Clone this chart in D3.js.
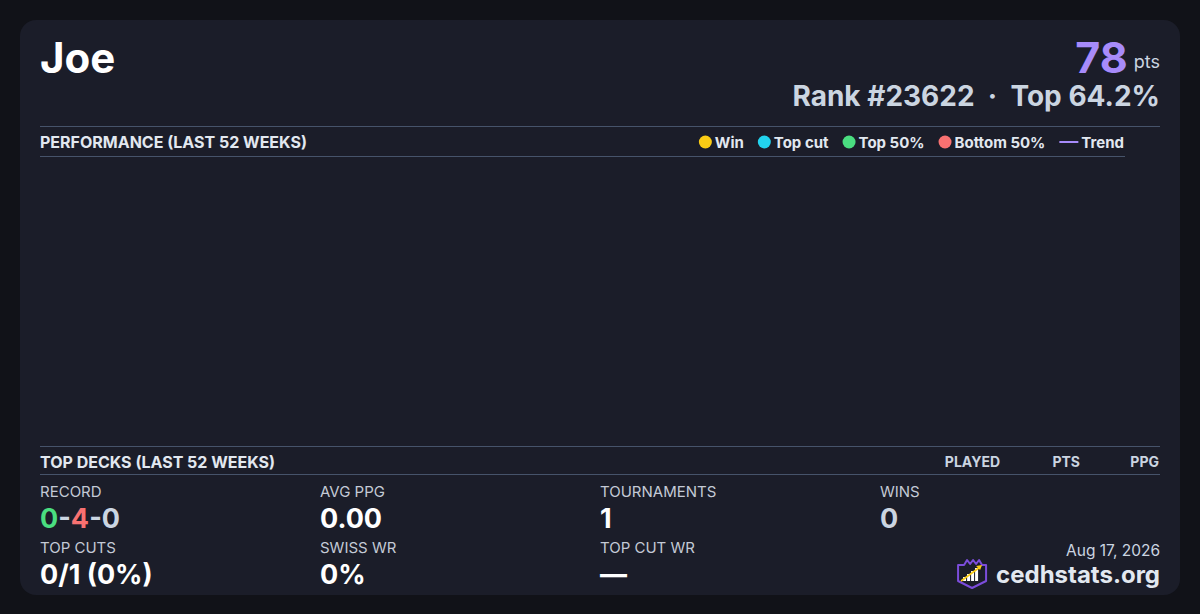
<!DOCTYPE html>
<html><head><meta charset="utf-8">
<script src="https://cdn.jsdelivr.net/npm/d3@7"></script>
<style>
html,body{margin:0;padding:0;background:#111218;}
svg{display:block;font-family:Inter,"Noto Sans",sans-serif;}
</style></head><body>
<svg id="c" width="1200" height="614"></svg>
<script>
// ---- data ----
const playerName = "Joe";
const points = 78;
const rank = 23622;
const topPct = 64.2;
const legendLabels = ["Win", "Top cut", "Top 50%", "Bottom 50%", "Trend"];
const legendColors = ["#facc15", "#22d3ee", "#4ade80", "#f87171", "#a78bfa"];
const weeklyResults = []; // no results in last 52 weeks
const deckHeaders = ["PLAYED", "PTS", "PPG"];
const topDecks = [];
const statLabels = ["RECORD", "AVG PPG", "TOURNAMENTS", "WINS", "TOP CUTS", "SWISS WR", "TOP CUT WR"];
const statValues = [null, "0.00", "1", "0", "0/1 (0%)", "0%", "—"];
const recordParts = [0, 4, 0];
const dateLabel = "Aug 17, 2026";
const siteName = "cedhstats.org";

// ---- draw ----
const svg = d3.select("#c");
svg.append("rect").attr("width",1200).attr("height",614).attr("fill","#111218");
svg.append("rect").attr("x",20).attr("y",20).attr("width",1160).attr("height",575).attr("rx",16).attr("fill","#1b1d29");

const L = 40, R = 1160;
const lineCol = "#46536a";

svg.append("text").attr("x",L).attr("y",73).attr("fill","#ffffff").attr("font-size",42).attr("font-weight",700).text(playerName);

const pts = svg.append("text").attr("x",R).attr("y",73).attr("text-anchor","end");
pts.append("tspan").attr("fill","#a78bfa").attr("font-size",43).attr("font-weight",700).text(points);
pts.append("tspan").attr("fill","#cbd5e1").attr("font-size",18).attr("font-weight",400).attr("dx",6).attr("dy",-5).text("pts");

const rk = svg.append("text").attr("x",R).attr("y",106).attr("text-anchor","end").attr("fill","#cbd5e1").attr("font-size",28).attr("font-weight",700);
rk.text(`Rank #${rank}  ·  Top ${topPct.toFixed(1)}%`).attr("xml:space","preserve");

// section lines
const hline = (y,x2)=>svg.append("line").attr("x1",L).attr("x2",x2).attr("y1",y).attr("y2",y).attr("stroke",lineCol).attr("stroke-width",1);
hline(126.5,R);
hline(156.5,1125);
hline(446.5,R);
hline(474.5,R);

svg.append("text").attr("x",L).attr("y",148).attr("fill","#e2e8f0").attr("font-size",16).attr("font-weight",700).text("PERFORMANCE (LAST 52 WEEKS)");

// legend laid out right to left
const lg = svg.append("g");
let xr = 1124;
const items = legendLabels.map((d,i)=>({label:d,color:legendColors[i],line:i===legendLabels.length-1}));
for (let i = items.length-1; i>=0; i--) {
  const it = items[i];
  const t = lg.append("text").attr("y",147.5).attr("fill","#e2e8f0").attr("font-size",15).attr("font-weight",700).attr("text-anchor","end").attr("x",xr).text(it.label);
  const w = t.node().getComputedTextLength();
  const tx = xr - w;
  if (it.line) {
    lg.append("line").attr("x1",tx-22).attr("x2",tx-3).attr("y1",142).attr("y2",142).attr("stroke",it.color).attr("stroke-width",2);
    xr = tx - 22 - 14;
  } else {
    lg.append("circle").attr("cx",tx-9.5).attr("cy",142).attr("r",6.5).attr("fill",it.color);
    xr = tx - 16 - 14;
  }
}

// chart area (empty, no weekly results)
const x = d3.scaleLinear().domain([0,52]).range([L,1125]);
const y = d3.scaleLinear().domain([0,1]).range([440,165]);
svg.append("g").selectAll("circle").data(weeklyResults).join("circle")
  .attr("cx",d=>x(d.week)).attr("cy",d=>y(d.value)).attr("r",5);

// top decks
svg.append("text").attr("x",L).attr("y",468).attr("fill","#e2e8f0").attr("font-size",16).attr("font-weight",700).text("TOP DECKS (LAST 52 WEEKS)");
const hdrX = [1000, 1080, 1159];
deckHeaders.forEach((h,i)=>svg.append("text").attr("x",hdrX[i]).attr("y",467).attr("text-anchor","end").attr("fill","#cbd5e1").attr("font-size",14).attr("font-weight",700).text(h));

// stats grid
const colX = [40, 320, 600, 880];
const rowLabelY = [497, 553], rowValY = [528, 584];
statLabels.forEach((lab,i)=>{
  const c = i%4, r = Math.floor(i/4);
  svg.append("text").attr("x",colX[c]).attr("y",rowLabelY[r]).attr("fill","#c4cad6").attr("font-size",15).attr("font-weight",400).text(lab);
  const v = svg.append("text").attr("x",colX[c]).attr("y",rowValY[r]).attr("font-size",27).attr("font-weight",700);
  if (lab === "RECORD") {
    v.append("tspan").attr("fill","#4ade80").text(recordParts[0]);
    v.append("tspan").attr("fill","#cbd5e1").text("-");
    v.append("tspan").attr("fill","#f87171").text(recordParts[1]);
    v.append("tspan").attr("fill","#cbd5e1").text("-"+recordParts[2]);
  } else {
    v.attr("fill", lab==="WINS" ? "#cbd5e1" : "#ffffff").text(statValues[i]);
  }
});

// footer
svg.append("text").attr("x",R).attr("y",556).attr("text-anchor","end").attr("fill","#cbd5e1").attr("font-size",15.5).text(dateLabel);
const site = svg.append("text").attr("x",R).attr("y",583).attr("text-anchor","end").attr("fill","#e2e8f0").attr("font-size",24).attr("font-weight",700).text(siteName);
const sw = site.node().getComputedTextLength();
const lx = R - sw - 40;
const logo = svg.append("g").attr("transform",`translate(${lx},559)`);
logo.append("path").attr("d","M2,6 L8,6 L11,1 L14,5 L17,1 L20,5 L23,1 L26,6 L30,6 L30,22 L16,29 L2,22 Z").attr("fill","#1b1d29").attr("stroke","#7c4ddb").attr("stroke-width",2).attr("stroke-linejoin","round");
[[7,18,4],[11,15,7],[15,12,10],[19,9,13]].forEach(b=>logo.append("rect").attr("x",b[0]).attr("y",b[1]).attr("width",3).attr("height",b[2]).attr("fill","#ffffff"));
logo.append("line").attr("x1",5).attr("y1",22).attr("x2",24).attr("y2",8).attr("stroke","#facc15").attr("stroke-width",1.6);
logo.append("path").attr("d","M26,6 L20,7 L24,11 Z").attr("fill","#facc15");
</script>
</body></html>
